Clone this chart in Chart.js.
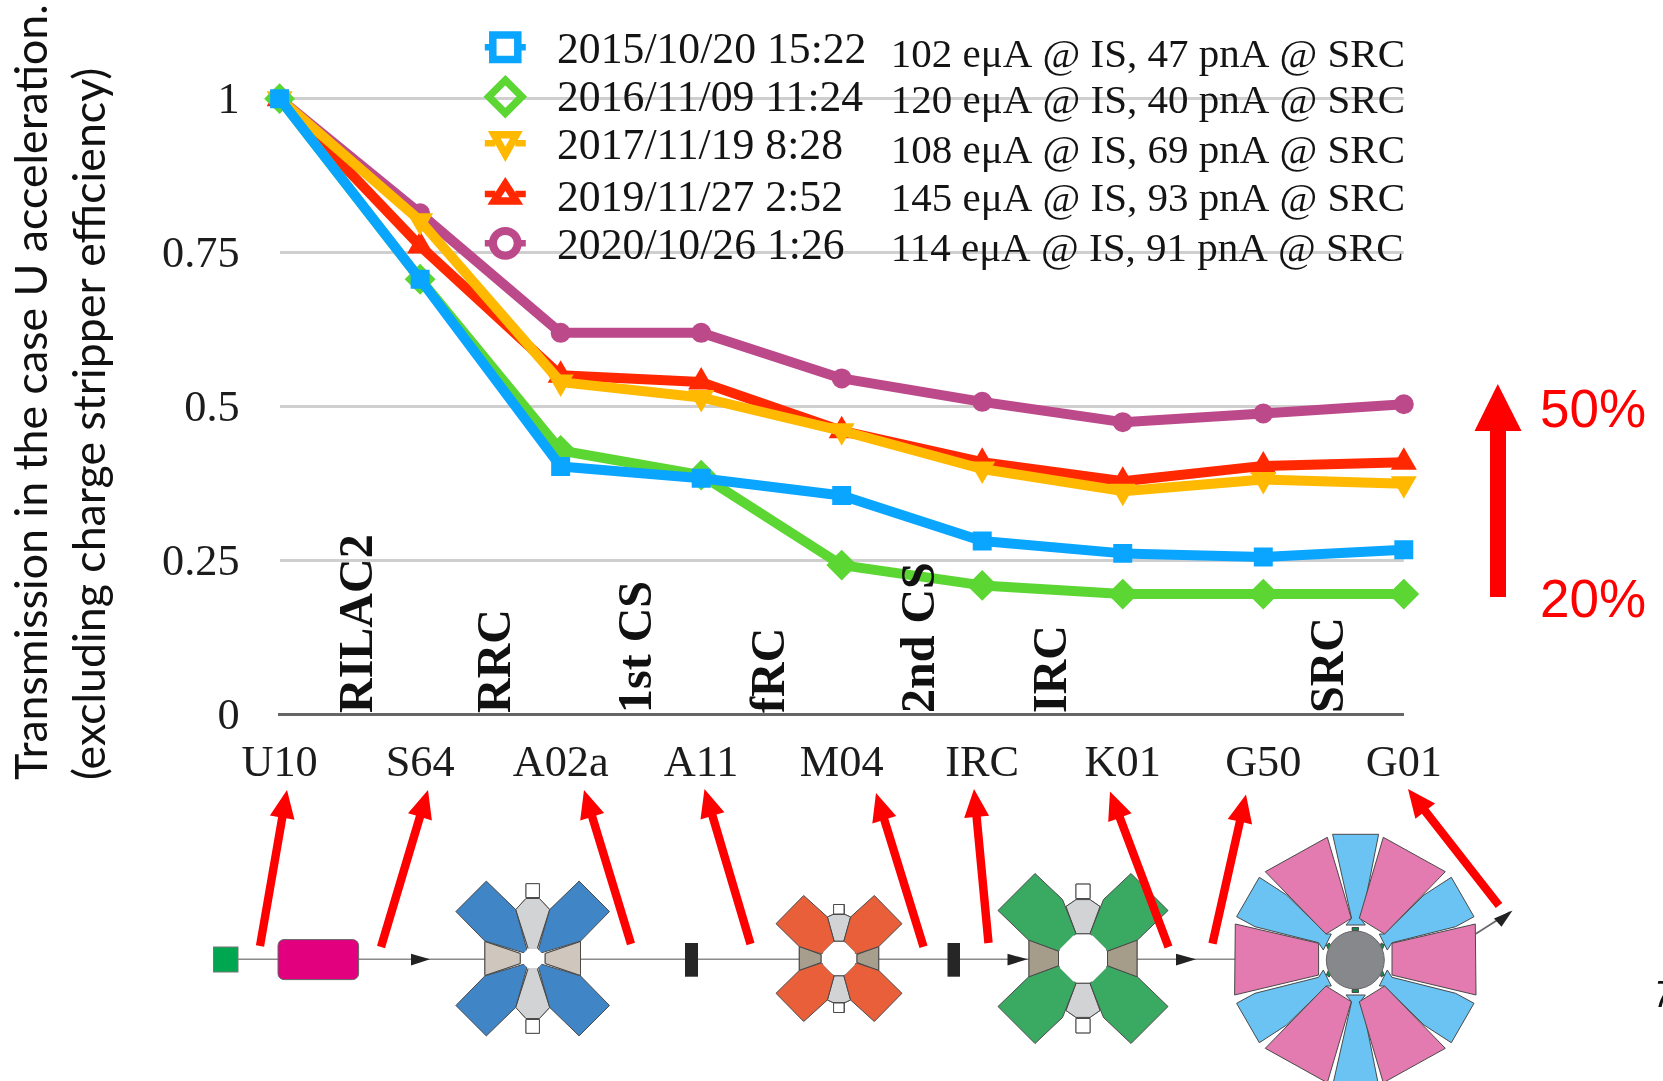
<!DOCTYPE html>
<html><head><meta charset="utf-8">
<style>html,body{margin:0;padding:0;background:#fff;width:1663px;height:1081px;overflow:hidden}
#wrap{position:relative;width:1663px;height:1081px;overflow:hidden}
canvas{position:absolute;left:0;top:0}
svg{position:absolute;left:0;top:0}</style>
<script src="https://cdn.jsdelivr.net/npm/chart.js@4"></script>
</head><body><div id="wrap"><svg id="diagram" width="1663" height="1081" viewBox="0 0 1663 1081"></svg><canvas id="c" width="1663" height="1081"></canvas><svg id="overlay" width="1663" height="1081" viewBox="0 0 1663 1081"></svg></div>
<script>
const categories = ["U10","S64","A02a","A11","M04","IRC","K01","G50","G01"];
const yTicks = [0,0.25,0.5,0.75,1];
const dates = ["2015/10/20 15:22","2016/11/09 11:24","2017/11/19 8:28","2019/11/27 2:52","2020/10/26 1:26"];
const currents = ["102 eμA @ IS, 47 pnA @ SRC","120 eμA @ IS, 40 pnA @ SRC","108 eμA @ IS, 69 pnA @ SRC","145 eμA @ IS, 93 pnA @ SRC","114 eμA @ IS, 91 pnA @ SRC"];
const series2015 = [1,0.707,0.403,0.384,0.356,0.282,0.262,0.256,0.268];
const series2016 = [1,0.707,0.429,0.389,0.243,0.21,0.196,0.196,0.196];
const series2017 = [1,0.802,0.54,0.515,0.461,0.399,0.363,0.382,0.375];
const series2019 = [1,0.761,0.551,0.54,0.461,0.41,0.379,0.404,0.41];
const series2020 = [1,0.814,0.62,0.62,0.546,0.508,0.475,0.489,0.504];
const sections = ["RILAC2","RRC","1st CS","fRC","2nd CS","IRC","SRC"];
const titleLines = ["Transmission in the case U acceleration.","(excluding charge stripper efficiency)"];
const gainLabels = ["50%","20%"];
const pageNumber = "7";

const colors = ["#0AA5FF","#5CD633","#FFB900","#FF2800","#BC4A8A"];
const styles = [
 {pointStyle:"rect",r:12,rot:0},
 {pointStyle:"rectRot",r:14,rot:0},
 {pointStyle:"triangle",r:13,rot:180},
 {pointStyle:"triangle",r:13,rot:0},
 {pointStyle:"circle",r:9,rot:0}
];
const allSeries = [series2015,series2016,series2017,series2019,series2020];
const datasets = allSeries.map((d,i)=>({
  label:dates[i],data:d,borderColor:colors[i],backgroundColor:colors[i],
  borderWidth:10,pointStyle:styles[i].pointStyle,pointRadius:styles[i].r,pointRotation:styles[i].rot,
  pointBackgroundColor:colors[i],pointBorderColor:colors[i],pointBorderWidth:2,
  tension:0,fill:false,clip:false,borderJoinStyle:"round"
}));

const SERIF='"Liberation Serif","Times New Roman",serif';
const sectionX=[372,509.5,651,783.6,934,1066,1342.5];
const leftBase=[62.7,111,159,211,258.5];
const rightBase=[67,113,163,210.7,260.7];
const markerY=[47.3,96.7,143.3,194,243.3];

function legendMarker(ctx,i,x,y){
  ctx.save();ctx.strokeStyle=colors[i];ctx.lineWidth=7.5;ctx.lineJoin="miter";ctx.miterLimit=4;
  ctx.beginPath();
  if(i===0){ctx.rect(x-12.5,y-12.3,25,24.6);}
  if(i===1){ctx.moveTo(x,y-16.5);ctx.lineTo(x+16.5,y);ctx.lineTo(x,y+16.5);ctx.lineTo(x-16.5,y);ctx.closePath();}
  if(i===2){ctx.moveTo(x-11,y-8.5);ctx.lineTo(x+11,y-8.5);ctx.lineTo(x,y+11);ctx.closePath();}
  if(i===3){ctx.moveTo(x-11,y+7);ctx.lineTo(x+11,y+7);ctx.lineTo(x,y-10);ctx.closePath();}
  if(i===4){ctx.lineWidth=8;ctx.arc(x,y,12.4,0,Math.PI*2);}
  ctx.stroke();
  if(i!==1){ctx.lineWidth=6.5;ctx.beginPath();ctx.moveTo(x-20.5,y);ctx.lineTo(x-10,y);ctx.moveTo(x+10,y);ctx.lineTo(x+20.5,y);ctx.stroke();}
  ctx.restore();
}

const annot={id:"annot",afterDraw(chart){
  const ctx=chart.ctx;ctx.save();
  ctx.fillStyle="#141414";ctx.textAlign="left";ctx.textBaseline="alphabetic";
  ctx.font="43.7px "+SERIF;
  dates.forEach((t,i)=>ctx.fillText(t,557,leftBase[i]));
  ctx.font="41px "+SERIF;
  currents.forEach((t,i)=>ctx.fillText(t,890.7,rightBase[i]));
  dates.forEach((t,i)=>legendMarker(ctx,i,505.3,markerY[i]));
  ctx.fillStyle="#111";ctx.font="bold 48px "+SERIF;
  sections.forEach((t,i)=>{ctx.save();ctx.translate(sectionX[i],713);ctx.rotate(-Math.PI/2);ctx.fillText(t,0,0);ctx.restore();});
  ctx.font="44.7px Lato,sans-serif";ctx.fillStyle="#111";
  ctx.save();ctx.translate(47,780);ctx.rotate(-Math.PI/2);ctx.fillText(titleLines[0],0,0);ctx.restore();
  ctx.save();ctx.translate(104.5,780);ctx.rotate(-Math.PI/2);ctx.fillText(titleLines[1],0,0);ctx.restore();
  ctx.fillStyle="#FF0000";ctx.font='53px "Liberation Sans",Arial,sans-serif';
  ctx.fillText(gainLabels[0],1540,426.7);ctx.fillText(gainLabels[1],1540,616.7);
  ctx.fillStyle="#111";ctx.font='italic 36px "Liberation Sans",Arial,sans-serif';
  ctx.fillText(pageNumber,1654,1007);
  ctx.restore();
}};

new Chart(document.getElementById("c"),{
  type:"line",
  data:{labels:categories,datasets},
  plugins:[annot],
  options:{
    responsive:false,animation:false,devicePixelRatio:1,
    layout:{padding:{top:98.7,right:259.2,bottom:0,left:0}},
    plugins:{legend:{display:false},tooltip:{enabled:false},title:{display:false}},
    scales:{
      x:{type:"category",offset:false,
        grid:{display:false,drawTicks:false},
        border:{display:true,color:"#666",width:3},
        ticks:{autoSkip:false,maxRotation:0,minRotation:0,padding:23,color:"#1c1c1c",font:{family:SERIF,size:44.3}},
        afterFit(s){s.height=366.2;}},
      y:{min:0,max:1,
        afterBuildTicks(s){s.ticks=yTicks.map(v=>({value:v}));},
        grid:{drawTicks:false,color:c=>c.tick&&c.tick.value===0?"rgba(0,0,0,0)":"#CFCFCF",lineWidth:3},
        border:{display:false},
        ticks:{padding:40,labelOffset:2.5,color:"#1c1c1c",font:{family:SERIF,size:44.3},callback:v=>String(v)},
        afterFit(s){s.width=279.6;}}
    }
  }
});

/* ---- beam-line schematic (decoration, SVG) ---- */
function poly(pts,fill,tf){return `<polygon points="${pts.map(p=>p.join(",")).join(" ")}" fill="${fill}" stroke="#4a4a4a" stroke-width="1"${tf?` transform="${tf}"`:""}/>`;}
function mirrored(cx,cy,pts,fill){
  return [[1,1],[-1,1],[1,-1],[-1,-1]].map(([a,b])=>poly(pts,fill,`translate(${cx} ${cy}) scale(${a} ${b})`)).join("");
}
function rl(x1,x2){return `<line x1="${x1}" y1="959.3" x2="${x2}" y2="959.3" stroke="#8a8a8a" stroke-width="1.6"/>`;}
function head(x1,x2){return `<polygon points="${x1},953.7 ${x2},959.3 ${x1},965.5" fill="#222"/>`;}
function bar(x1,x2){return `<rect x="${x1}" y="943" width="${x2-x1}" height="33.7" fill="#262626"/>`;}
function cyclo(cx,cy,petal,pod,box,side,petalC,sideC,hole){
  return mirrored(cx,cy,side,sideC)+mirrored(cx,cy,pod,"#D1D3D4")+mirrored(cx,cy,box,"#fff")+mirrored(cx,cy,petal,petalC)+
   `<polygon points="${Array.from({length:8},(_,k)=>{const a=Math.PI/8+k*Math.PI/4;return (cx+hole*Math.cos(a)).toFixed(1)+","+(cy+hole*Math.sin(a)).toFixed(1);}).join(" ")}" fill="#fff"/>`;
}
let s="";
s+=rl(238,278)+rl(358,486)+head(411,430)+rl(580,800)+rl(878,1030)+rl(1136,1240);
s+=`<rect x="213.5" y="947" width="24.5" height="25" fill="#00A650" stroke="#777" stroke-width="1"/>`;
s+=`<rect x="278" y="939.6" width="80.6" height="40" rx="6" fill="#E2007F" stroke="#666" stroke-width="1"/>`;
s+=cyclo(532.7,958.5,
  [[-46.4,-77.4],[-17,-48.9],[-4.5,-4.4],[-47.8,-17.4],[-76.8,-47]],
  [[-6.7,-60],[6.7,-60],[17,-48.9],[4.5,-10],[-4.5,-10],[-17,-48.9]],
  [[-6.7,-74.8],[6.7,-74.8],[6.7,-61],[-6.7,-61]],
  [[-47.8,-17],[-12.5,-5],[-12.5,5],[-47.8,17]],"#4085C6","#CFC7BD",11);
s+=bar(685,698);
s+=cyclo(839,958.5,
  [[-35.3,-63],[-11.6,-41.5],[-4.9,-17.4],[-17.4,-4.4],[-39.7,-11.9],[-63,-34.8]],
  [[-6,-44],[6,-44],[11.6,-41.5],[4.9,-17.4],[-4.9,-17.4],[-11.6,-41.5]],
  [[-5,-54],[5.4,-54],[5.4,-44.5],[-5,-44.5]],
  [[-39.7,-12],[-18,-4],[-18,4],[-39.7,12]],"#E85F3A","#A79E8E",17);
s+=bar(947.5,960)+head(1007.5,1027.5);
s+=cyclo(1083,958.5,
  [[-48,-85],[-20.5,-59],[-7,-24.8],[-24.5,-7.4],[-54.5,-18.5],[-85,-48]],
  [[-7,-58.9],[7,-58.9],[17,-52],[7,-24.8],[-7,-24.8],[-17,-52]],
  [[-7,-74.4],[7,-74.4],[7,-60],[-7,-60]],
  [[-54,-18.5],[-24.5,-7.4],[-24.5,7.4],[-54,18.5]],"#3AAA63","#A69C8A",25);
s+=head(1176,1196);
const cx=1355.3,cy=960;
const skyTop=[[-22.7,-125.7],[23.3,-125.7],[6.3,-40],[10,-35],[-9.3,-35],[-3.7,-41.7]];
const skyDiag=[[-96,-82.7],[-118.7,-43.3],[-100.3,-33.3],[-36.7,-17.3],[-32,-10],[-24,-26],[-29,-26],[-68.7,-65]];
const pinkSide=[[-120,-36],[-36.7,-16.7],[-36.7,15],[-120.7,35]];
const pinkDiag=[[-28,-122.7],[-90,-88.3],[-29.3,-26],[-4,-41.7]];
s+=mirrored(cx,cy,skyDiag,"#6AC3F2")+poly(skyTop,"#6AC3F2",`translate(${cx} ${cy})`)+poly(skyTop,"#6AC3F2",`translate(${cx} ${cy}) scale(1 -1)`);
s+=poly(pinkSide,"#E37BB0",`translate(${cx} ${cy})`)+poly(pinkSide,"#E37BB0",`translate(${cx} ${cy}) scale(-1 1)`)+mirrored(cx,cy,pinkDiag,"#E37BB0");
s+=mirrored(cx,cy,[[-3,-32.5],[3,-32.5],[3,-29.5],[-3,-29.5]],"#0E8A4A");
s+=mirrored(cx,cy,[[-29,-15],[-26,-17],[-24,-12.5],[-27,-10.5]],"#0E8A4A");
s+=`<circle cx="${cx}" cy="${cy}" r="29" fill="#87888C" stroke="#666" stroke-width="1"/>`;
s+=`<line x1="1475.5" y1="934" x2="1510" y2="912" stroke="#666" stroke-width="1.6"/><polygon points="1512.5,910.4 1494,918.5 1501.5,926.7" fill="#222"/>`;
document.getElementById("diagram").innerHTML=s;

function redArrow(x1,y1,x2,y2){
  const dx=x2-x1,dy=y2-y1,L=Math.hypot(dx,dy),ux=dx/L,uy=dy/L,px=-uy,py=ux,hl=28,hw=12.5,w=4.2;
  const bx=x2-ux*hl,by=y2-uy*hl;
  const P=[[x1+px*w,y1+py*w],[bx+px*w,by+py*w],[bx+px*hw,by+py*hw],[x2,y2],[bx-px*hw,by-py*hw],[bx-px*w,by-py*w],[x1-px*w,y1-py*w]];
  return `<polygon points="${P.map(p=>p[0].toFixed(1)+","+p[1].toFixed(1)).join(" ")}" fill="#FF0000"/>`;
}
let o="";
[[260,946,287,790],[381,947,428,790],[631,944,584,790],[750.5,944,704.5,789],[923.5,946.7,876,793],[988.5,943,974,789],[1168.5,947,1110,791.5],[1212.5,943.7,1246,794.4],[1499,905.5,1408,789]]
 .forEach(a=>o+=redArrow(a[0],a[1],a[2],a[3]));
o+=`<rect x="1490" y="430" width="16" height="167" fill="#FF0000"/><polygon points="1497.8,384 1521.5,431 1474.5,431" fill="#FF0000"/>`;
document.getElementById("overlay").innerHTML=o;
</script></body></html>
